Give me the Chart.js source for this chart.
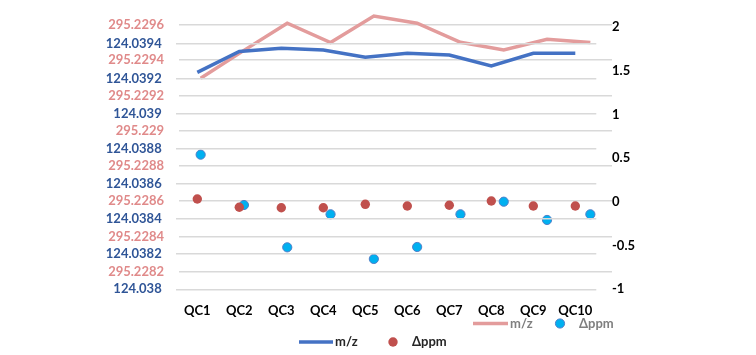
<!DOCTYPE html>
<html><head><meta charset="utf-8">
<script src="https://cdn.jsdelivr.net/npm/chart.js@4"></script>
<style>
html,body{margin:0;padding:0;background:#fff;}
#wrap{position:relative;width:756px;height:355px;}
canvas{position:absolute;left:0;top:0;}
</style></head><body>
<div id="wrap"><canvas id="cb" width="756" height="355"></canvas><canvas id="ca" width="756" height="355"></canvas></div>
<script>
const categories = ['QC1','QC2','QC3','QC4','QC5','QC6','QC7','QC8','QC9','QC10'];
const seriesNames = ['m/z', 'Δppm'];
// first measurement set (blue m/z line, red Δppm dots)
const mzBlue = [124.039238, 124.039357, 124.039375, 124.039365, 124.039324, 124.039347, 124.039337, 124.039274, 124.039347, 124.039347];
const ppmRed = [0.033, -0.062, -0.067, -0.067, -0.028, -0.047, -0.039, 0.010, -0.047, -0.047];
// second measurement set (pink m/z line, blue Δppm dots)
const mzPink = [295.229298, 295.229456, 295.229610, 295.229500, 295.229651, 295.229610, 295.229502, 295.229458, 295.229519, 295.229500];
const ppmBlue = [0.54, -0.036, -0.52, -0.142, -0.653, -0.516, -0.142, 0.002, -0.207, -0.142];
// tick labels
const blueTicks = [124.038, 124.0382, 124.0384, 124.0386, 124.0388, 124.039, 124.0392, 124.0394];
const pinkTicks = [295.2282, 295.2284, 295.2286, 295.2288, 295.229, 295.2292, 295.2294, 295.2296];
const ppmTicks = [-1, -0.5, 0, 0.5, 1, 1.5, 2];

Chart.defaults.font.family = 'Lato';
Chart.defaults.font.weight = 'bold';
Chart.defaults.font.size = 13;
Chart.defaults.animation = false;

const fmt = v => String(+Number(v).toFixed(4));
const setTicks = arr => (axis => { axis.ticks = arr.map(v => ({value: v})); });
const noPad = (w, h) => (s => {
  if (w !== undefined) s.width = w;
  if (h !== undefined) s.height = h;
  s.paddingTop = 0; s.paddingBottom = 0; s.paddingLeft = 0; s.paddingRight = 0;
});

const manualLegend = {
  id: 'manualLegend',
  afterDraw(chart, args, opts) {
    const ctx = chart.ctx;
    opts.items.forEach((it, i) => {
      const ds = chart.data.datasets[i];
      ctx.save();
      if (ds.showLine === false) {
        ctx.beginPath();
        ctx.arc(it.x, it.y, ds.pointRadius, 0, Math.PI * 2);
        ctx.fillStyle = ds.pointBackgroundColor;
        ctx.fill();
        if (ds.pointBorderWidth) { ctx.lineWidth = ds.pointBorderWidth; ctx.strokeStyle = ds.pointBorderColor; ctx.stroke(); }
      } else {
        ctx.beginPath();
        ctx.moveTo(it.x, it.y); ctx.lineTo(it.x + it.w, it.y);
        ctx.lineWidth = ds.borderWidth; ctx.strokeStyle = ds.borderColor; ctx.stroke();
      }
      ctx.fillStyle = opts.color;
      ctx.font = 'bold 13px Lato';
      ctx.textBaseline = 'middle';
      ctx.textAlign = 'left';
      ctx.fillText(ds.label, it.tx, it.y);
      ctx.restore();
    });
  }
};

// Chart B (underneath): pink line + blue dots, pink left axis, right Δppm axis
new Chart(document.getElementById('cb'), {
  type: 'line',
  data: {
    labels: categories,
    datasets: [
      {label: seriesNames[0], data: mzPink, yAxisID: 'y', borderColor: '#E39C9C', borderWidth: 3.5, pointRadius: 0, tension: 0},
      {label: seriesNames[1], data: ppmBlue, yAxisID: 'y2', showLine: false, pointRadius: 4.6,
       pointBackgroundColor: '#00B0F0', pointBorderColor: '#4F7FC8', pointBorderWidth: 1}
    ]
  },
  options: {
    responsive: false, devicePixelRatio: 1,
    layout: {padding: {left: 0, right: 94, top: 10, bottom: 65.7}},
    plugins: {legend: {display: false}, tooltip: {enabled: false},
      manualLegend: {color: '#7F7F7F', items: [{x: 473, w: 35, y: 323.5, tx: 510}, {x: 560, y: 323.5, tx: 579}]}},
    scales: {
      x: {display: false, offset: true},
      y: {position: 'left', min: 295.2281, max: 295.2296851, afterBuildTicks: setTicks(pinkTicks),
          grid: {color: '#D9D9D9', lineWidth: 1.5, drawTicks: false}, border: {display: false},
          ticks: {color: '#E08A8A', padding: 15, callback: fmt}, afterFit: noPad(179)},
      y2: {position: 'right', min: -1, max: 2.1944, afterBuildTicks: setTicks(ppmTicks),
          grid: {display: false, drawTicks: false}, border: {display: false},
          ticks: {color: '#000', padding: 0, callback: fmt}, afterFit: noPad(50)}
    }
  },
  plugins: [manualLegend]
});

// Chart A (on top): blue line + red dots, blue left axis, x labels
new Chart(document.getElementById('ca'), {
  type: 'line',
  data: {
    labels: categories,
    datasets: [
      {label: seriesNames[0], data: mzBlue, yAxisID: 'y', borderColor: '#4472C4', borderWidth: 3.5, pointRadius: 0, tension: 0},
      {label: seriesNames[1], data: ppmRed, yAxisID: 'y2', showLine: false, pointRadius: 4.7,
       pointBackgroundColor: '#C0504D', pointBorderColor: '#C0504D', pointBorderWidth: 0}
    ]
  },
  options: {
    responsive: false, devicePixelRatio: 1,
    layout: {padding: {left: 0, right: 159.7, top: 25, bottom: 0}},
    plugins: {legend: {display: false}, tooltip: {enabled: false},
      manualLegend: {color: '#262626', items: [{x: 299, w: 34, y: 342, tx: 335}, {x: 393, y: 342, tx: 412}]}},
    scales: {
      x: {offset: true, grid: {display: false, drawTicks: false}, border: {display: false},
          ticks: {color: '#000', padding: 13.4, maxRotation: 0, autoSkip: false}, afterFit: noPad(undefined, 65.7)},
      y: {position: 'left', min: 124.038, max: 124.039508, afterBuildTicks: setTicks(blueTicks),
          grid: {color: '#D9D9D9', lineWidth: 1.5, drawTicks: false}, border: {display: false},
          ticks: {color: '#2F5597', padding: 14.6, callback: fmt}, afterFit: noPad(176.3)},
      y2: {display: false, position: 'right', min: -1, max: 2.0229}
    }
  },
  plugins: [manualLegend]
});
</script>
</body></html>
